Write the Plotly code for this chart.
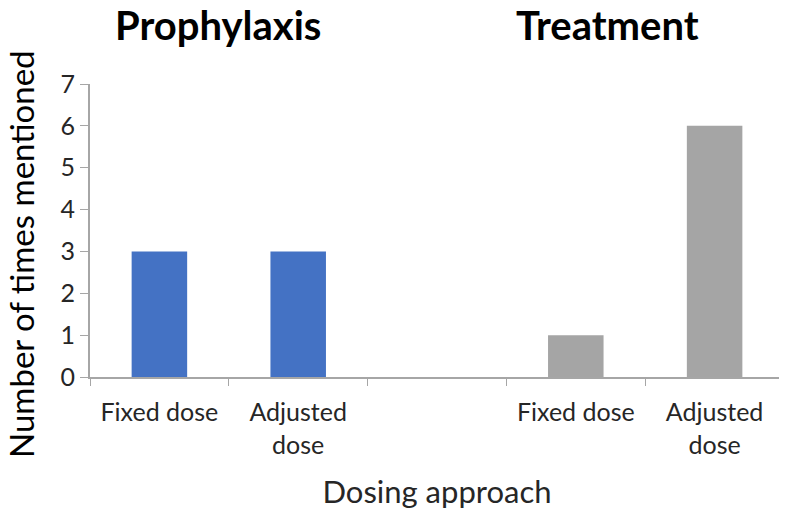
import plotly.graph_objects as go

categories = ["Fixed dose", "Adjusted<br>dose", " ", "Fixed dose ", "Adjusted<br>dose "]
prophylaxis_cats = ["Fixed dose", "Adjusted<br>dose"]
prophylaxis_vals = [3, 3]
treatment_cats = ["Fixed dose ", "Adjusted<br>dose "]
treatment_vals = [1, 6]
y_ticks = [0, 1, 2, 3, 4, 5, 6, 7]

FONT = "Lato, Calibri, Carlito, sans-serif"
AXIS = "#a6a6a6"
W, H = 787, 511
L, R, T, B = 82, 11, 76, 142

fig = go.Figure()
fig.add_trace(go.Bar(x=prophylaxis_cats, y=prophylaxis_vals, marker_color="#4472C4",
                     marker_line_width=0, width=0.4, name="Prophylaxis"))
fig.add_trace(go.Bar(x=treatment_cats, y=treatment_vals, marker_color="#A5A5A5",
                     marker_line_width=0, width=0.4, name="Treatment"))

fig.update_layout(
    width=W, height=H,
    margin=dict(l=L, r=R, t=T, b=B),
    paper_bgcolor="white", plot_bgcolor="white",
    barmode="overlay", showlegend=False,
    font=dict(family=FONT, color="#262626"),
    xaxis=dict(type="category", categoryorder="array", categoryarray=categories,
               tickmode="array", tickvals=categories,
               ticktext=[c.strip() if c.strip() else " " for c in categories],
               range=[-0.5, 4.5], tickson="boundaries", ticks="outside", ticklen=7,
               tickcolor=AXIS, showline=True, linecolor=AXIS, linewidth=2,
               showgrid=False, automargin=False, ticklabelstandoff=12,
               tickfont=dict(size=25, color="#262626"),
               title=dict(text="Dosing approach", font=dict(size=31, color="#262626"), standoff=24)),
    yaxis=dict(range=[0, 7], tickvals=y_ticks, ticks="outside", ticklen=8,
               tickcolor=AXIS, showline=True, linecolor=AXIS, linewidth=2,
               showgrid=False, zeroline=False, automargin=False,
               tickfont=dict(size=25, color="#262626")),
    annotations=[
        dict(text="<b>Prophylaxis</b>", x=218, y=25, showarrow=False,
             font=dict(size=40, color="black", family=FONT)),
        dict(text="<b>Treatment</b>", x=607, y=25, showarrow=False,
             font=dict(size=40, color="black", family=FONT)),
        dict(text="Number of times mentioned", x=21, y=254, showarrow=False, textangle=-90,
             font=dict(size=33, color="black", family=FONT)),
    ],
)
# annotation pixel positions (screen) -> paper coordinates
pw = W - L - R
ph = H - T - B
OFF = 8
for a in fig.layout.annotations:
    a.x = (a.x - OFF - L) / pw
    a.y = (H - B - (a.y - OFF)) / ph
    a.xref = "paper"
    a.yref = "paper"
    a.xanchor = "center"
    a.yanchor = "middle"

fig.write_html("out.html")
